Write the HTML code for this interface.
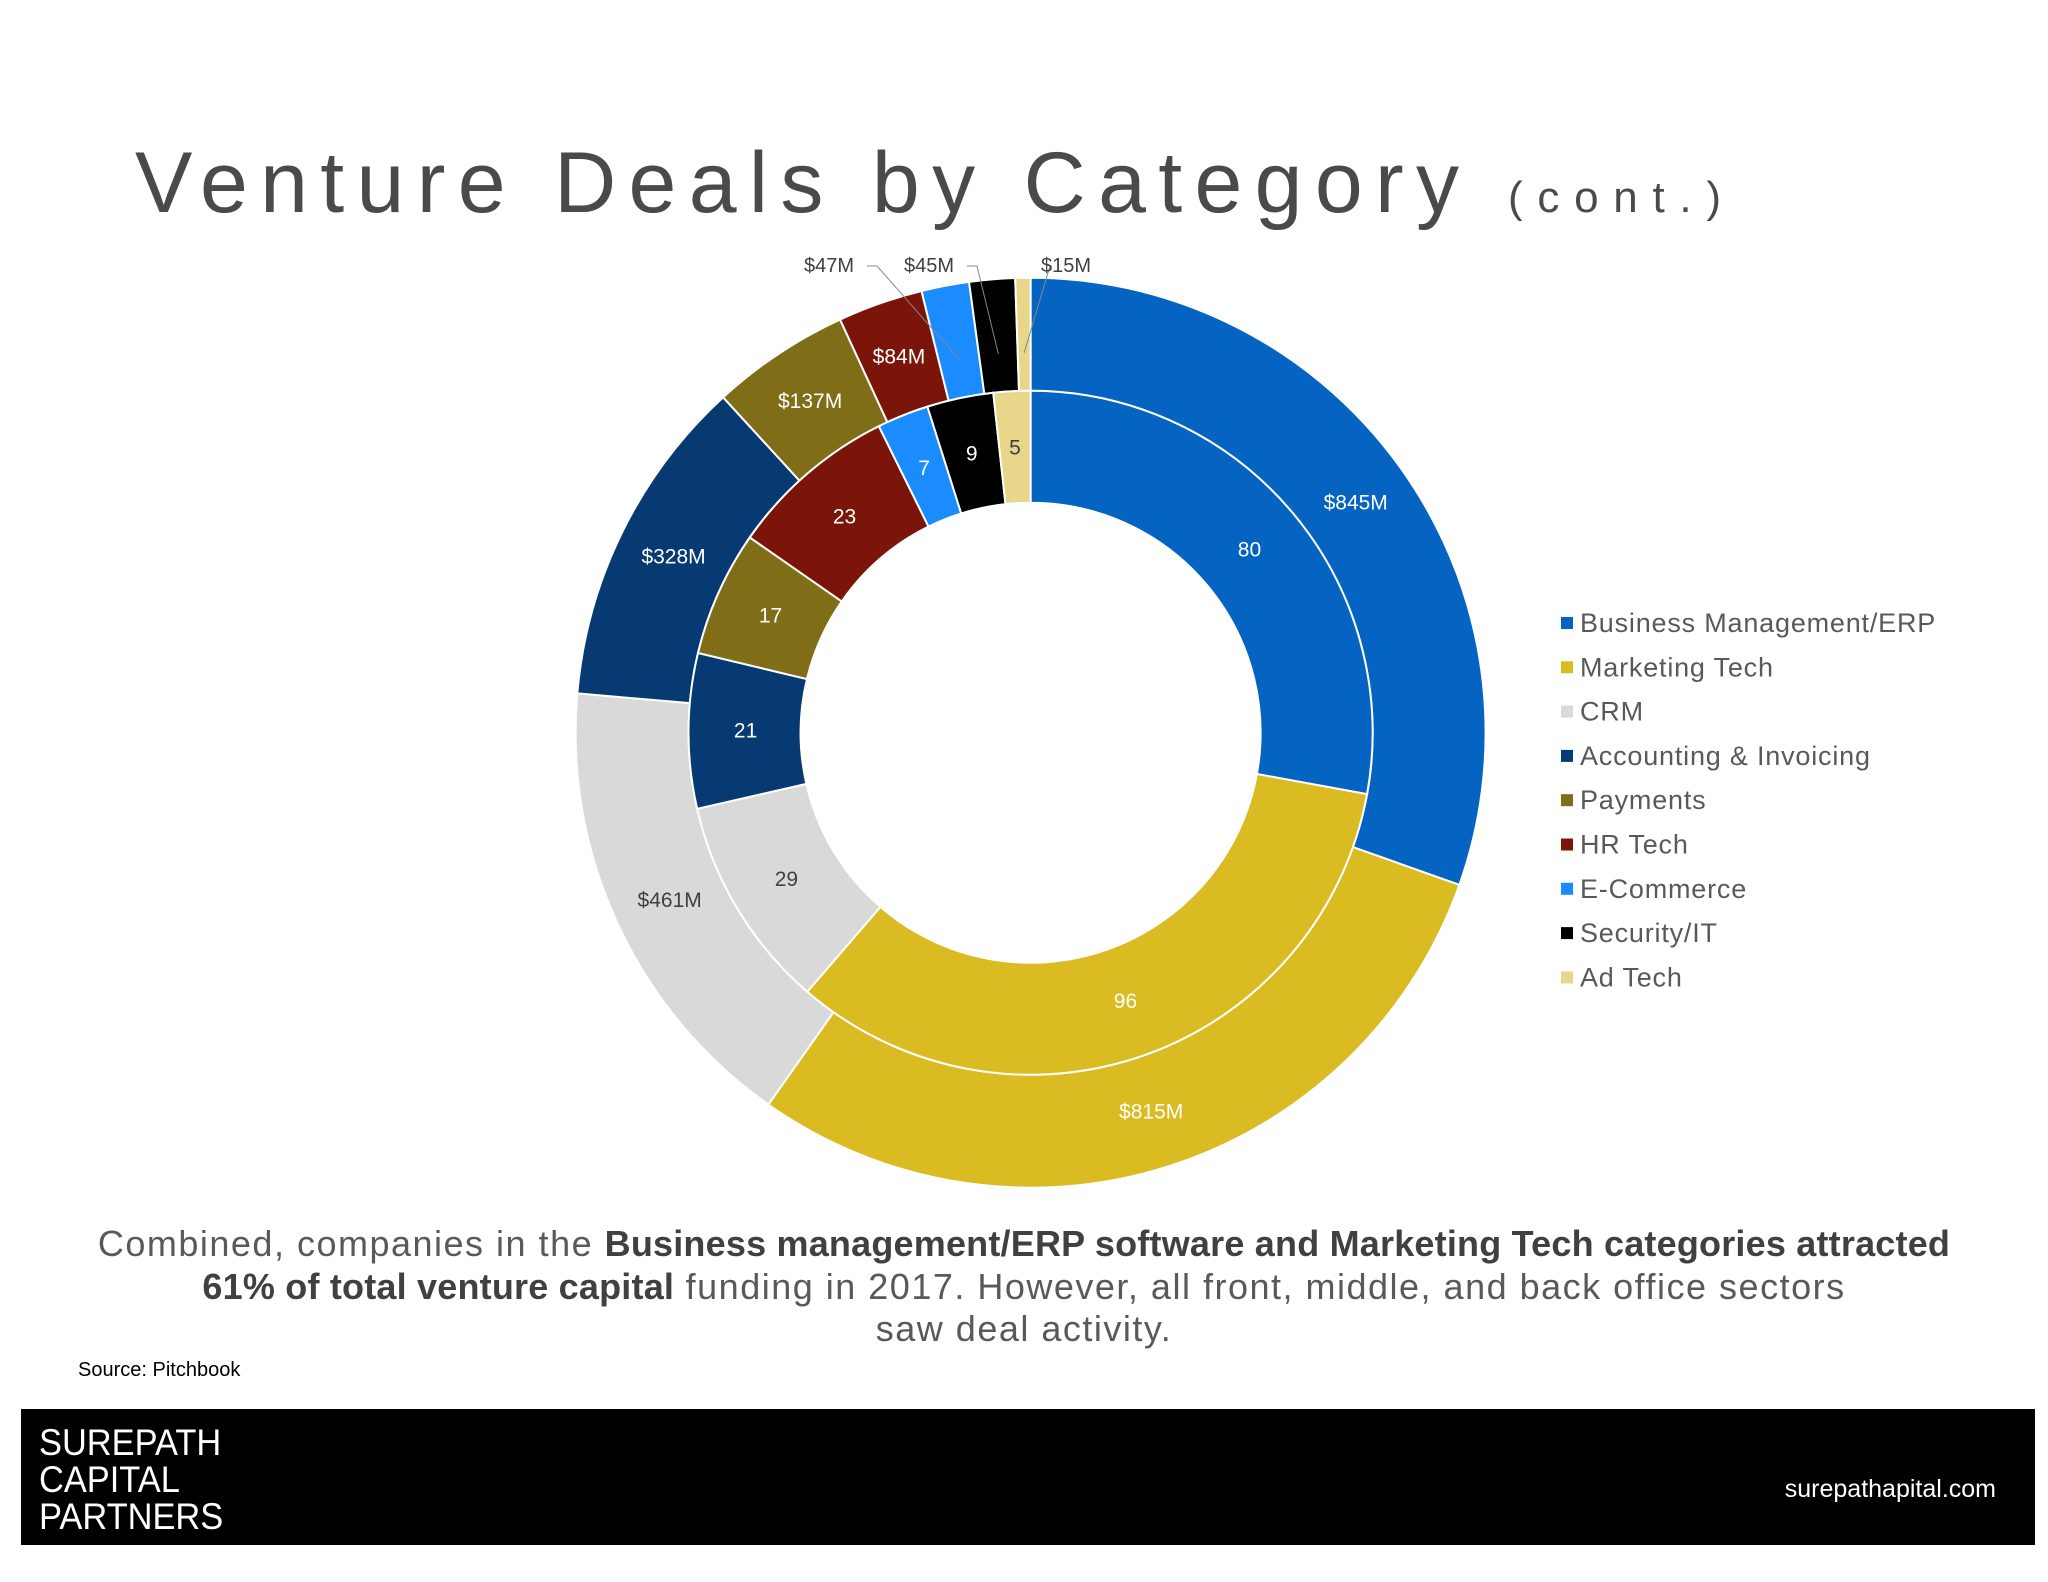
<!DOCTYPE html>
<html><head><meta charset="utf-8"><style>
body{margin:0;background:#fff;font-family:"Liberation Sans",sans-serif;}
#wrap{position:relative;width:2048px;height:1582px;overflow:hidden;background:#fff;}
.cap{position:absolute;left:0;width:2048px;text-align:center;font-size:36px;color:#595959;white-space:nowrap;letter-spacing:1.5px;}
.cap b{color:#404040;letter-spacing:0.2px;}
</style></head><body>
<div id="wrap">
<svg id="chart" width="2048" height="1582" style="position:absolute;left:0;top:0">
<text x="135" y="212" font-size="86" fill="#4a4a4a" textLength="1324" lengthAdjust="spacing">Venture Deals by Category</text>
<text x="1508" y="212" font-size="44" fill="#4a4a4a" textLength="213" lengthAdjust="spacing">(cont.)</text>
<g id="rings"></g><g id="labels"></g><g id="legend"></g>
</svg>
<div class="cap" style="top:1223px">Combined, companies in the <b>Business management/ERP software and Marketing Tech categories attracted</b></div>
<div class="cap" style="top:1266px"><b>61% of total venture capital</b> funding in 2017. However, all front, middle, and back office sectors</div>
<div class="cap" style="top:1308px">saw deal activity.</div>
<div style="position:absolute;left:78px;top:1359px;font-size:20px;color:#000">Source: Pitchbook</div>
<div style="position:absolute;left:21px;top:1409px;width:2014px;height:136px;background:#000">
<div style="position:absolute;left:18px;top:15px;font-size:37px;line-height:37px;color:#fff;transform:scaleX(0.93);transform-origin:0 0">SUREPATH<br>CAPITAL<br>PARTNERS</div>
<div style="position:absolute;right:39px;top:66px;font-size:25px;color:#fff">surepathapital.com</div>
</div>
</div>
<script>
const categories=["Business Management/ERP","Marketing Tech","CRM","Accounting & Invoicing","Payments","HR Tech","E-Commerce","Security/IT","Ad Tech"];
const funding=[845,815,461,328,137,84,47,45,15];
const fundingLabels=["$845M","$815M","$461M","$328M","$137M","$84M","$47M","$45M","$15M"];
const deals=[80,96,29,21,17,23,7,9,5];
const colors=["#0563c1","#dbbb22","#d9d9d9","#073a72","#7f6d17","#7b150a","#1a8cff","#000000","#e8d68a"];
const darkText=[false,false,true,false,false,false,false,false,true];
const cx=1030.6,cy=732.7,R0=230,R1=342,R2=455;
const NS="http://www.w3.org/2000/svg";
function pt(r,a){return [cx+r*Math.sin(a),cy-r*Math.cos(a)];}
function arc(r1,r2,a0,a1){const l=(a1-a0)>Math.PI?1:0;const p=pt(r2,a0),q=pt(r2,a1),s=pt(r1,a1),t=pt(r1,a0);
return `M${p[0]},${p[1]}A${r2},${r2} 0 ${l} 1 ${q[0]},${q[1]}L${s[0]},${s[1]}A${r1},${r1} 0 ${l} 0 ${t[0]},${t[1]}Z`;}
const rings=document.getElementById('rings'),labels=document.getElementById('labels'),legend=document.getElementById('legend');
function txt(x,y,s,fill,size){const t=document.createElementNS(NS,'text');t.setAttribute('x',x);t.setAttribute('y',y);t.setAttribute('text-anchor','middle');t.setAttribute('dominant-baseline','central');t.setAttribute('font-size',size);t.setAttribute('fill',fill);t.textContent=s;labels.appendChild(t);return t;}
function ring(vals,r1,r2,lbls,lr,nm){const tot=vals.reduce((a,b)=>a+b,0);let a=0;
vals.forEach((v,i)=>{const a1=a+v/tot*2*Math.PI;const p=document.createElementNS(NS,'path');
p.setAttribute('d',arc(r1,r2,a,a1));p.setAttribute('fill',colors[i]);p.setAttribute('stroke','#fff');p.setAttribute('stroke-width','2');


rings.appendChild(p);
const m=(a+a1)/2;
if(nm==='funding'&&i>=6){const e=pt(380,m);const lx=[829,929,1064][i-6];
const ln=document.createElementNS(NS,'polyline');ln.setAttribute('points',`${lx+(i==8?-14:38)},266 ${lx+(i==8?-14:48)},266 ${e[0]},${e[1]}`);ln.setAttribute('fill','none');ln.setAttribute('stroke','#888');ln.setAttribute('stroke-width','1');labels.appendChild(ln);
const t=txt(i==8?lx+2:lx,266,lbls[i],'#404040',20);


}else{const c=pt(lr,m);const t=txt(c[0],c[1],lbls[i],darkText[i]?'#404040':'#fff',21);

}
a=a1;});}
ring(funding,R1,R2,fundingLabels,398,'funding');
ring(deals,R0,R1,deals.map(String),285,'deals');
categories.forEach((c,i)=>{const y=623+i*44.3;const r=document.createElementNS(NS,'rect');r.setAttribute('x',1561);r.setAttribute('y',y-6);r.setAttribute('width',12);r.setAttribute('height',12);r.setAttribute('fill',colors[i]);


legend.appendChild(r);const t=document.createElementNS(NS,'text');t.setAttribute('x',1580);t.setAttribute('y',y);t.setAttribute('dominant-baseline','central');t.setAttribute('font-size',27);t.setAttribute('letter-spacing','0.8');t.setAttribute('fill','#595959');t.textContent=c;


legend.appendChild(t);});
</script>
</body></html>
